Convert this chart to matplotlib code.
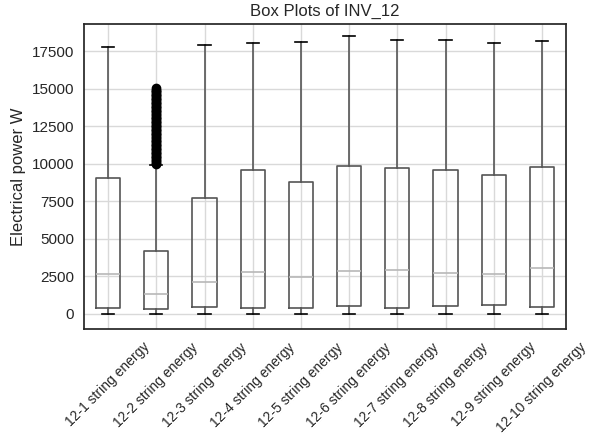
import matplotlib
matplotlib.use("Agg")
import matplotlib.pyplot as plt

labels = ["12-1 string energy", "12-2 string energy", "12-3 string energy",
          "12-4 string energy", "12-5 string energy", "12-6 string energy",
          "12-7 string energy", "12-8 string energy", "12-9 string energy",
          "12-10 string energy"]
whisker_low = [0, 0, 0, 0, 0, 0, 0, 0, 0, 0]
q1 = [420, 310, 490, 400, 400, 560, 400, 510, 600, 490]
median = [2650, 1360, 2160, 2770, 2430, 2840, 2910, 2740, 2670, 3030]
q3 = [9020, 4170, 7720, 9550, 8800, 9820, 9730, 9600, 9220, 9780]
whisker_high = [17800, 9920, 17920, 18040, 18080, 18500, 18210, 18210, 18040, 18140]

# outliers above the upper whisker of 12-2
fliers_12_2 = [9990, 10080, 10170, 10260, 10350, 10440, 10530, 10620, 10710,
               10800, 10890, 10980, 11070, 11160, 11250, 11340, 11430, 11520,
               11610, 11700, 11790, 11880, 11970, 12060, 12150, 12240, 12330,
               12420, 12510, 12600, 12690, 12780, 12870, 12960, 13050, 13140,
               13230, 13320, 13410, 13500, 13590, 13680, 13770, 13860, 13950,
               14040, 14130, 14220, 14310, 14400, 14490, 14580, 14670, 14760,
               14850, 14940, 15020]

plt.rcParams["font.family"] = ["Liberation Sans", "DejaVu Sans"]

fig = plt.figure(figsize=(6.03, 4.36), dpi=100)
ax = fig.add_axes([84 / 603, 1 - 329 / 436, (566 - 84) / 603, (329 - 24) / 436])

stats = []
for i, lab in enumerate(labels):
    stats.append({
        "label": lab,
        "whislo": whisker_low[i],
        "q1": q1[i],
        "med": median[i],
        "q3": q3[i],
        "whishi": whisker_high[i],
        "fliers": fliers_12_2 if i == 1 else [],
    })

box_color = "#555555"
ax.bxp(stats, widths=0.5, patch_artist=False,
       boxprops=dict(color=box_color, linewidth=1.2),
       whiskerprops=dict(color=box_color, linewidth=1.2),
       capprops=dict(color="black", linewidth=1.2),
       medianprops=dict(color="#b8b8b8", linewidth=1.2),
       flierprops=dict(marker="o", markerfacecolor="black",
                       markeredgecolor="black", markersize=6))

ax.set_ylim(-1000, 19300)
ax.set_xlim(0.5, 10.5)
ax.set_yticks([0, 2500, 5000, 7500, 10000, 12500, 15000, 17500])
ax.grid(True, color="#d9d9d9", linewidth=1.0)
ax.set_axisbelow(True)
for s in ax.spines.values():
    s.set_color("#262626")
    s.set_linewidth(1.25)

ax.tick_params(axis="both", length=0, labelsize=11, colors="#262626", pad=7)
ax.tick_params(axis="x", labelsize=10, pad=8)
plt.setp(ax.get_xticklabels(), rotation=45)
ax.set_ylabel("Electrical power W", fontsize=12, color="#262626")
ax.set_title("Box Plots of INV_12", fontsize=12, color="#262626")

fig.savefig("out.png", dpi=100)
